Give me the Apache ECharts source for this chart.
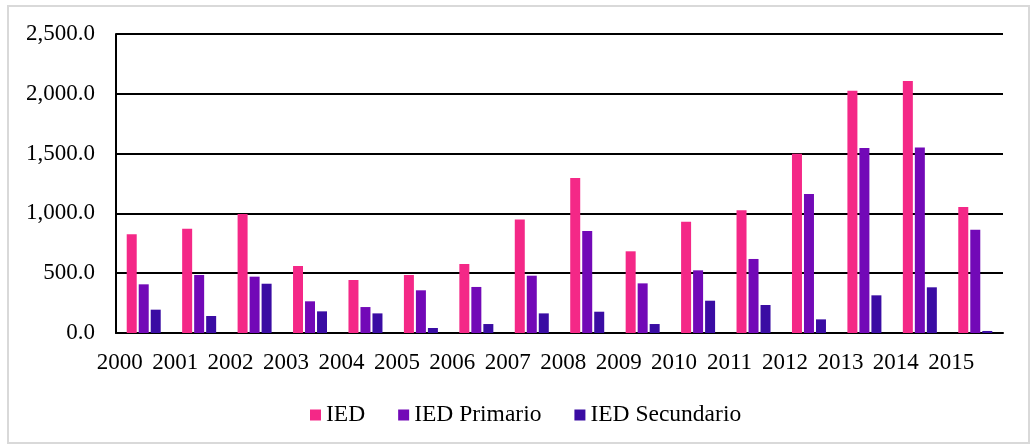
<!DOCTYPE html>
<html>
<head>
<meta charset="utf-8">
<script src="https://cdn.jsdelivr.net/npm/echarts@6/dist/echarts.min.js"></script>
<style>
  html, body { margin: 0; padding: 0; background: #fff; }
  #frame { position: absolute; left: 7px; top: 5px; width: 1023px; height: 439px; border: 2px solid #d9d9d9; box-sizing: border-box; }
  #chart { position: absolute; left: 0; top: 0; width: 1035px; height: 448px; }
</style>
</head>
<body>
<div id="frame"></div>
<div id="chart"></div>
<script>
// Years on the category axis
const years = ['2000','2001','2002','2003','2004','2005','2006','2007','2008','2009','2010','2011','2012','2013','2014','2015'];
// Foreign direct investment, total and by sector
const ied = [825, 872, 995, 560, 443, 485, 577, 950, 1296, 683, 931, 1026, 1499, 2026, 2107, 1053];
const iedPrimario = [407, 485, 471, 265, 217, 357, 385, 479, 853, 415, 524, 619, 1162, 1547, 1552, 864];
const iedSecundario = [195, 142, 412, 181, 164, 42, 75, 164, 178, 75, 270, 234, 114, 315, 382, 17];
const yTicks = [0, 500, 1000, 1500, 2000, 2500];

const font = '"Liberation Serif", "DejaVu Serif", serif';
const chart = echarts.init(document.getElementById('chart'), null, { renderer: 'canvas' });

function barSeries(name, data, color) {
  return {
    name: name,
    type: 'bar',
    data: data,
    barWidth: 10,
    barGap: '20%',
    itemStyle: { color: color },
    emphasis: { disabled: true }
  };
}

chart.setOption({
  animation: false,
  textStyle: { fontFamily: font },
  grid: { left: 116, right: 32, top: 34, bottom: 115, containLabel: false },
  legend: {
    top: 403,
    left: 310,
    padding: 0,
    icon: 'rect',
    itemWidth: 11,
    itemHeight: 11,
    itemGap: 33,
    textStyle: { fontFamily: font, fontSize: 23.5, color: '#000' },
    data: ['IED', 'IED Primario', 'IED Secundario']
  },
  xAxis: {
    type: 'category',
    data: years,
    axisLine: { lineStyle: { color: '#000', width: 2 } },
    axisTick: { show: false },
    axisLabel: {
      color: '#000',
      fontFamily: font,
      fontSize: 23,
      margin: 18,
      interval: 0,
      padding: [0, 48, 0, 0]
    }
  },
  yAxis: {
    type: 'value',
    min: yTicks[0],
    max: yTicks[yTicks.length - 1],
    interval: 500,
    axisLine: { show: true, lineStyle: { color: '#000', width: 2 } },
    axisTick: { show: false },
    splitLine: { lineStyle: { color: '#000', width: 2 } },
    axisLabel: {
      color: '#000',
      fontFamily: font,
      fontSize: 23,
      margin: 21,
      formatter: function (v) {
        return v.toLocaleString('en-US', { minimumFractionDigits: 1, maximumFractionDigits: 1 });
      }
    }
  },
  series: [
    barSeries('IED', ied, '#F42887'),
    barSeries('IED Primario', iedPrimario, '#7209B7'),
    barSeries('IED Secundario', iedSecundario, '#3A0CA3')
  ]
});
</script>
</body>
</html>
